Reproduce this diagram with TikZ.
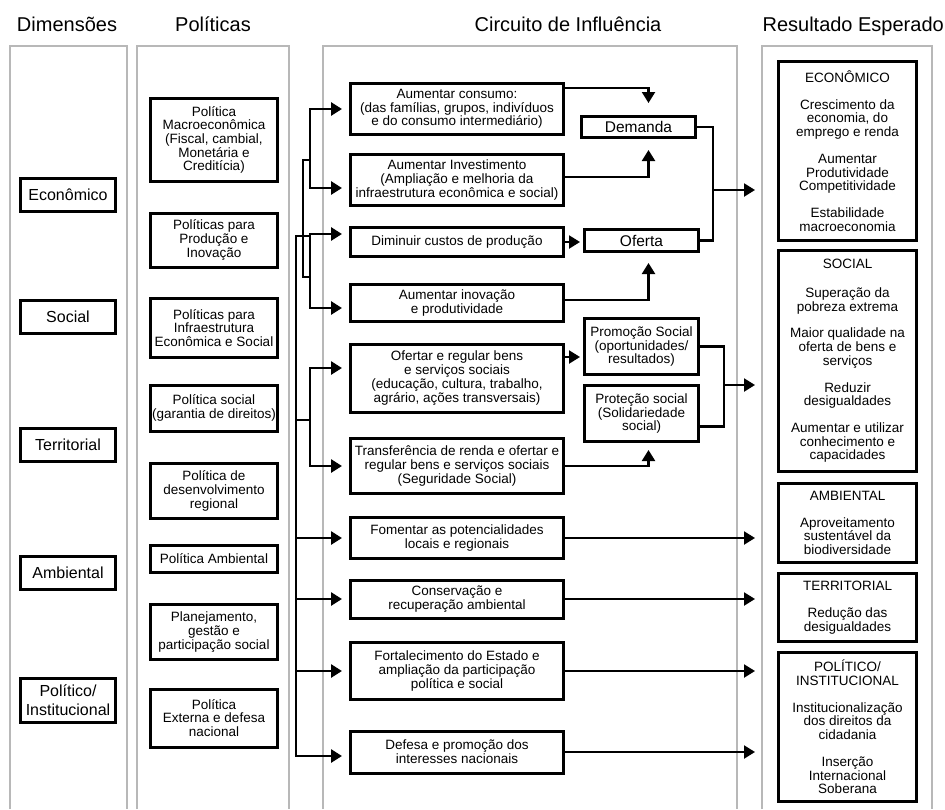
\documentclass[tikz,border=0pt]{standalone}
\usepackage{fontspec}
\setmainfont{Liberation Sans}
\usetikzlibrary{arrows.meta}

\begin{document}
\begin{tikzpicture}[
    x=1pt, y=-1pt,
    every node/.style={align=center, inner sep=1pt, font=\fontsize{13.5}{13.7}\selectfont},
    head/.style={font=\fontsize{20}{22}\selectfont, anchor=base},
    dimbox/.style={draw, line width=3pt, minimum width=95pt, minimum height=33pt, font=\fontsize{16}{18.5}\selectfont},
    polbox/.style={draw, line width=3pt, minimum width=127pt},
    circbox/.style={draw, line width=3pt, minimum width=213pt},
    midbox/.style={draw, line width=3pt, minimum width=114pt},
    resbox/.style={draw, line width=3pt, minimum width=138pt},
    colframe/.style={draw=black!28, line width=2pt},
    treeline/.style={line width=2.8pt, line cap=rect},
    tohead/.style={-{Triangle[length=11pt,width=13pt]}},
    branch/.style={line width=2.8pt, tohead, shorten >=7pt},
    lnk/.style={line width=2.2pt}
]
\useasboundingbox (0,0) rectangle (945,809);

% column frames
\draw[colframe] (10,809) -- (10,46) -- (127,46) -- (127,809);
\draw[colframe] (137,809) -- (137,46) -- (289,46) -- (289,809);
\draw[colframe] (323,809) -- (323,46) -- (737,46) -- (737,809);
\draw[colframe] (762,809) -- (762,46) -- (932,46) -- (932,809);

\node[head] (hdim) at (67,31) {Dimensões};
\node[head] (hpol) at (213,31) {Políticas};
\node[head] (hcir) at (568,31) {Circuito de Influência};
\node[head, anchor=base east] (hres) at (945,31) {Resultado Esperado};

% dimensoes
\node[dimbox] (deco) at (68,195) {Econômico};
\node[dimbox] (dsoc) at (68,317) {Social};
\node[dimbox] (dter) at (68,445) {Territorial};
\node[dimbox] (damb) at (68,573) {Ambiental};
\node[dimbox, minimum height=44pt] (dpol) at (68,700) {Político/\\Institucional};

% politicas
\node[polbox, minimum height=83pt] (p1) at (214,140) {Política\\Macroeconômica\\(Fiscal, cambial,\\Monetária e\\Creditícia)};
\node[polbox, minimum height=54pt] (p2) at (214,240) {Políticas para\\Produção e\\Inovação};
\node[polbox, minimum height=59pt] (p3) at (214,328) {Políticas para\\Infraestrutura\\Econômica e Social};
\node[polbox, minimum height=46pt] (p4) at (214,408) {Política social\\(garantia de direitos)};
\node[polbox, minimum height=55pt] (p5) at (214,491) {Política de\\desenvolvimento\\regional};
\node[polbox, minimum height=27pt] (p6) at (214,559) {Política Ambiental};
\node[polbox, minimum height=55pt] (p7) at (214,632) {Planejamento,\\gestão e\\participação social};
\node[polbox, minimum height=58pt] (p8) at (214,718) {Política\\Externa e defesa\\nacional};

% circuito
\node[circbox, minimum height=51pt] (c1) at (457,109) {Aumentar consumo:\\(das famílias, grupos, indivíduos\\e do consumo intermediário)};
\node[circbox, minimum height=51pt] (c2) at (457,180) {Aumentar Investimento\\(Ampliação e melhoria da\\infraestrutura econômica e social)};
\node[circbox, minimum height=29pt] (c3) at (457,242) {Diminuir custos de produção};
\node[circbox, minimum height=37pt] (c4) at (457,303) {Aumentar inovação\\e produtividade};
\node[circbox, minimum height=68pt] (c5) at (457,378) {Ofertar e regular bens\\e serviços sociais\\(educação, cultura, trabalho,\\agrário, ações transversais)};
\node[circbox, minimum height=55pt] (c6) at (457,466) {Transferência de renda e ofertar e\\regular bens e serviços sociais\\(Seguridade Social)};
\node[circbox, minimum height=41pt] (c7) at (457,538) {Fomentar as potencialidades\\locais e regionais};
\node[circbox, minimum height=38pt] (c8) at (457,599) {Conservação e\\recuperação ambiental};
\node[circbox, minimum height=57pt] (c9) at (457,671) {Fortalecimento do Estado e\\ampliação da participação\\política e social};
\node[circbox, minimum height=42pt] (c10) at (457,752) {Defesa e promoção dos\\interesses nacionais};

\node[midbox, minimum height=21pt, font=\fontsize{15.5}{17}\selectfont] (dem) at (638.5,127) {Demanda};
\node[midbox, minimum height=22pt, font=\fontsize{15.5}{17}\selectfont] (ofe) at (641.5,240.5) {Oferta};
\node[midbox, minimum height=56pt] (pro) at (641.5,346.5) {Promoção Social\\(oportunidades/\\resultados)};
\node[midbox, minimum height=56pt] (prt) at (641.5,413.5) {Proteção social\\(Solidariedade\\social)};

% resultados
\node[resbox, minimum height=179pt] (r1) at (847.5,151) {ECONÔMICO\\[13pt]Crescimento da\\economia, do\\emprego e renda\\[13pt]Aumentar\\Produtividade\\Competitividade\\[13pt]Estabilidade\\macroeconomia};
\node[resbox, minimum height=221pt] (r2) at (847.5,361) {SOCIAL\\[15pt]Superação da\\pobreza extrema\\[13pt]Maior qualidade na\\oferta de bens e\\serviços\\[13pt]Reduzir\\desigualdades\\[13pt]Aumentar e utilizar\\conhecimento e\\capacidades};
\node[resbox, minimum height=79pt] (r3) at (847.5,523) {AMBIENTAL\\[13pt]Aproveitamento\\sustentável da\\biodiversidade};
\node[resbox, minimum height=68pt] (r4) at (847.5,607.5) {TERRITORIAL\\[13pt]Redução das\\desigualdades};
\node[resbox, minimum height=149pt] (r5) at (847.5,727) {POLÍTICO/\\INSTITUCIONAL\\[13pt]Institucionalização\\dos direitos da\\cidadania\\[13pt]Inserção\\Internacional\\Soberana};

% arvore de ligacoes
\coordinate (ka) at (310,160);
\coordinate (la) at (303,160);
\coordinate (lb) at (303,277);
\coordinate (kb) at (310,277);
\coordinate (t0) at (296,236);
\coordinate (kc) at (310,420);

\draw[treeline] (ka) -- (la) -- (lb) -- (kb);
\draw[treeline] (t0) -- (t0 -| kb);
\draw[treeline] (kc -| t0) -- (kc);
\draw[branch] (ka) |- (c1);
\draw[branch] (ka) |- ([yshift=-8pt]c2.west);
\draw[branch] (kb) |- ([yshift=8pt]c3.west);
\draw[branch] (kb) |- ([yshift=-5pt]c4.west);
\draw[branch] (kc) |- ([yshift=10pt]c5.west);
\draw[branch] (kc) |- (c6.west);
\draw[branch] (t0) |- ([yshift=-4pt]c10.west);
\foreach \n in {c7,c8,c9} \draw[branch] (\n -| t0) -- (\n.west);

% circuito -> demanda/oferta/promocao/protecao
\coordinate (c1e) at ([yshift=21pt]c1.east);
\coordinate (c2e) at ([yshift=3pt]c2.east);
\coordinate (c4e) at ([yshift=3pt]c4.east);
\coordinate (c5e) at ([yshift=21pt]c5.east);
\coordinate (prte) at ([yshift=-13pt]prt.east);
\draw[lnk, tohead, shorten >=12pt] (c1e) -| ([xshift=10pt]dem.north);
\draw[lnk, tohead, shorten >=11pt] (c2e) -| ([xshift=10pt]dem.south);
\draw[lnk, tohead, shorten >=3pt] (c3.east) -- (c3.east -| ofe.west);
\draw[lnk, tohead, shorten >=10pt] (c4e) -| ([xshift=7pt]ofe.south);
\draw[lnk, tohead, shorten >=3pt] (c5e) -- (c5e -| pro.west);
\draw[lnk, tohead, shorten >=7pt] (c6.east) -| ([xshift=7pt]prt.south);

% para os resultados
\coordinate (mdo) at (713,190);
\coordinate (mps) at (724,385);
\draw[lnk] (dem.east) -| (mdo) |- (ofe.east);
\draw[lnk, tohead, shorten >=22pt] (mdo) -- (mdo -| r1.west);
\draw[lnk] (pro.east) -| (mps) |- (prte);
\draw[lnk, tohead, shorten >=22pt] (mps) -- (mps -| r2.west);
\foreach \n/\r in {c7/r3, c8/r4, c9/r5, c10/r5}
  \draw[lnk, tohead, shorten >=22pt] (\n.east) -- (\n.east -| \r.west);
\end{tikzpicture}
\end{document}
